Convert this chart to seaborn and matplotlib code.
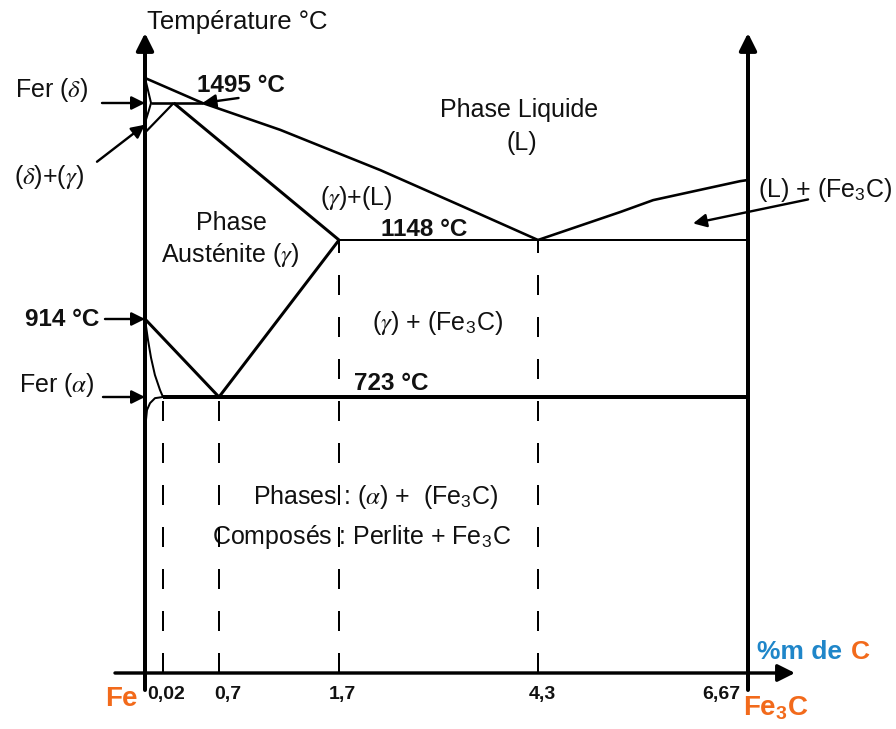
import numpy as np
import matplotlib
matplotlib.use("Agg")
import matplotlib.pyplot as plt
import seaborn as sns

sns.set_theme(style="white")
plt.rcParams["font.family"] = ["Liberation Sans", "DejaVu Sans"]
plt.rcParams.update({
    "mathtext.fontset": "custom",
    "mathtext.rm": "Liberation Sans",
    "mathtext.it": "STIXGeneral:italic",
    "mathtext.bf": "Liberation Sans:bold",
    "mathtext.sf": "Liberation Sans",
})

# ---- composition axis (wt % C) ----
tick_carbon = [0.02, 0.7, 1.7, 4.3, 6.67]
tick_labels = ["0,02", "0,7", "1,7", "4,3", "6,67"]

# ---- characteristic temperatures (°C) ----
T_melt = 1538
T_peritectic = 1495
T_eutectic = 1148
T_a3 = 914
T_eutectoid = 723
T_room = 0

C_peritectic = 0.15
C_liq_peritectic = 0.5
C_delta_max = 0.0067
C_alpha_max = 0.02
C_eutectoid = 0.7
C_gamma_max = 1.7
C_eutectic = 4.3
C_cementite = 6.67

# ---- phase boundaries (wt % C, °C) ----
liquidus_left_c = [0.0, 0.5, 1.21, 2.24, 3.28, 4.3]
liquidus_left_t = [1538, 1495, 1427, 1325, 1236, 1148]
liquidus_right_c = [4.3, 5.23, 5.60, 6.13, 6.58, 6.67]
liquidus_right_t = [1148, 1219, 1249, 1275, 1297, 1300]
delta_c = [0.0, 0.0033, 0.0067, 0.0044, 0.001]
delta_t = [1538, 1517, 1495, 1477, 1452]
delta_gamma_c = [0.15, 0.0]
delta_gamma_t = [1495, 1420]
alpha_c = [0.0, 0.0033, 0.0067, 0.011, 0.0167, 0.02]
alpha_t = [914, 863, 819, 777, 740, 723]
solvus_c = [0.02, 0.0111, 0.0056, 0.0022, 0.0011, 0.0006]
solvus_t = [723, 720, 707, 689, 663, 610]

# ---- schematic (non-linear) scales of the diagram ----
W, H = 896, 729
x_knots = [-1.0, 0.0, 0.02, 0.7, 1.7, 4.3, 6.67, 8.0]
x_pix = [0, 145, 163, 219, 339, 538, 748, 896]
t_knots = [-400, 0, 723, 914, 1148, 1495, 1538, 1800]
t_pix = [0, 56, 332, 410, 489, 626, 651, 729]


def fwd_x(v):
    return np.interp(v, x_knots, x_pix)


def inv_x(p):
    return np.interp(p, x_pix, x_knots)


def fwd_t(v):
    return np.interp(v, t_knots, t_pix)


def inv_t(p):
    return np.interp(p, t_pix, t_knots)


fig = plt.figure(figsize=(W / 100, H / 100), dpi=100)
ax = fig.add_axes([0, 0, 1, 1])
ax.set_xscale("function", functions=(fwd_x, inv_x))
ax.set_yscale("function", functions=(fwd_t, inv_t))
ax.set_xlim(x_knots[0], x_knots[-1])
ax.set_ylim(t_knots[0], t_knots[-1])
ax.set_axis_off()

PT = 0.72  # points per pixel at 100 dpi


def boundary(c, t, width_px):
    sns.lineplot(x=c, y=t, sort=False, estimator=None, color="black",
                 linewidth=width_px * PT, ax=ax, legend=False,
                 solid_capstyle="butt")


# liquidus
boundary(liquidus_left_c, liquidus_left_t, 2.6)
boundary(liquidus_right_c, liquidus_right_t, 2.6)
# delta iron domain
boundary(delta_c, delta_t, 2.0)
boundary(delta_gamma_c, delta_gamma_t, 2.2)
boundary([C_delta_max, C_liq_peritectic], [T_peritectic, T_peritectic], 2.6)
# austenite solidus
boundary([C_peritectic, C_gamma_max], [T_peritectic, T_eutectic], 3.0)
# eutectic line
boundary([C_gamma_max, C_cementite], [T_eutectic, T_eutectic], 2.0)
# A3 and Acm lines
boundary([0.0, C_eutectoid], [T_a3, T_eutectoid], 3.0)
boundary([C_gamma_max, C_eutectoid], [T_eutectic, T_eutectoid], 3.0)
# ferrite domain
boundary(alpha_c, alpha_t, 2.0)
boundary(solvus_c, solvus_t, 2.0)
# eutectoid line
boundary([C_alpha_max, C_cementite], [T_eutectoid, T_eutectoid], 4.0)

# vertical guides down to the composition axis
guide_c = [C_alpha_max, C_eutectoid, C_gamma_max, C_eutectic]
guide_top = [T_eutectoid, T_eutectoid, T_eutectic, T_eutectic]
ax.vlines(guide_c, [T_room] * 4, guide_top, colors="black",
          linewidth=2.0 * PT, linestyles=[(0, (10, 11))], zorder=4)

# ---- frame: temperature axis, composition axis, Fe3C line ----
frame_arrow = dict(arrowstyle="-|>", color="black", lw=4.0 * PT,
                   mutation_scale=26, shrinkA=0, shrinkB=0)
ax.annotate("", xy=(0.0, 1 - 33 / H), xytext=(0.0, 1 - 690 / H),
            xycoords=("data", "axes fraction"),
            textcoords=("data", "axes fraction"), arrowprops=frame_arrow)
ax.annotate("", xy=(C_cementite, 1 - 33 / H), xytext=(C_cementite, 1 - 690 / H),
            xycoords=("data", "axes fraction"),
            textcoords=("data", "axes fraction"), arrowprops=frame_arrow)
ax.annotate("", xy=(795 / W, T_room), xytext=(115 / W, T_room),
            xycoords=("axes fraction", "data"),
            textcoords=("axes fraction", "data"),
            arrowprops=dict(frame_arrow, lw=3.4 * PT))

# tick labels
tick_dx = [3, 9, 3, 4, -27]
for c, lab, dx in zip(tick_carbon, tick_labels, tick_dx):
    ax.annotate(lab, xy=(c, T_room), xytext=(dx, -21),
                textcoords="offset pixels", ha="center", va="center",
                fontsize=14, fontweight="bold", color="#111111")

# ---- pointer arrows ----
pointer = dict(arrowstyle="-|>", color="black", lw=2.4 * PT,
               mutation_scale=20, shrinkA=0, shrinkB=0)


def pointer_arrow(tip, offset):
    ax.annotate("", xy=tip, xytext=offset, textcoords="offset pixels",
                arrowprops=pointer)


pointer_arrow((0.0, T_peritectic), (-43, 0))
pointer_arrow((0.0, 1440), (-48, -37))
pointer_arrow((C_liq_peritectic, T_peritectic), (36, 5))
pointer_arrow((0.0, T_a3), (-40, 0))
pointer_arrow((0.0, T_eutectoid), (-42, 0))
pointer_arrow((6.05, 1190), (115, 24))


# ---- labels ----
def label(x, y, s, size=18, ha="center", **kw):
    ax.text(x / W, 1 - y / H, s, transform=ax.transAxes, ha=ha, va="center",
            fontsize=size, color=kw.pop("color", "#111111"), **kw)


label(147, 22, "Température °C", size=18.5, ha="left")
label(52, 90, r"Fer $(\delta)$")
label(49, 177, r"$(\delta)$+$(\gamma)$")
label(241, 85, f"{T_peritectic} °C", size=17.5, fontweight="bold")
label(519, 110, "Phase Liquide")
label(522, 143, "(L)")
label(356, 198, r"$(\gamma)$+(L)")
label(424, 229, f"{T_eutectic} °C", size=17.5, fontweight="bold")
label(825, 190, r"(L) + (Fe$_3$C)")
label(231, 223, "Phase")
label(230, 255, r"Austénite $(\gamma)$")
label(62, 320, f"{T_a3} °C", size=17.5, fontweight="bold")
label(438, 323, r"$(\gamma)$ + (Fe$_3$C)")
label(57, 385, r"Fer $(\alpha)$")
label(391, 383, f"{T_eutectoid} °C", size=17.5, fontweight="bold")
label(376, 497, r"Phases : $(\alpha)$ +  (Fe$_3$C)")
label(362, 537, r"Composés : Perlite + Fe$_3$C")

orange = "#f26a1b"
blue = "#1f86c9"
label(121, 699, "Fe", size=20, fontweight="bold", color=orange)
label(757, 652, "%m de", size=19, ha="left", fontweight="bold", color=blue)
label(851, 652, "C", size=19, ha="left", fontweight="bold", color=orange)
label(776, 708, r"$\mathbf{Fe_3C}$", size=20, color=orange)

fig.savefig("out.png", dpi=100)
